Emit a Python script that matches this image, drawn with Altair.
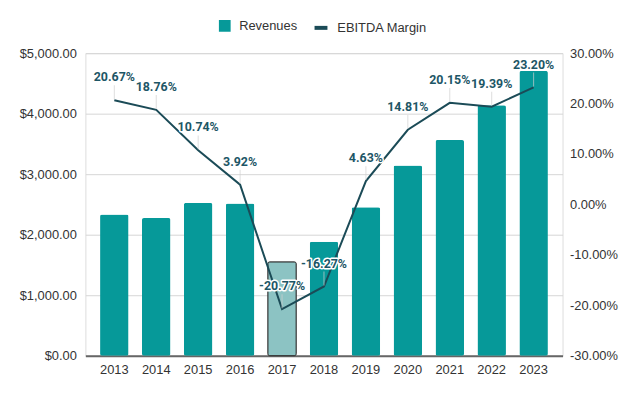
import altair as alt
import pandas as pd

years = ["2013", "2014", "2015", "2016", "2017", "2018", "2019", "2020", "2021", "2022", "2023"]
revenues = [2335, 2275, 2525, 2515, 1552, 1885, 2455, 3145, 3565, 4138, 4706]
margins = [20.67, 18.76, 10.74, 3.92, -20.77, -16.27, 4.63, 14.81, 20.15, 19.39, 23.20]
highlight_year = "2017"
rev_ticks = [0, 1000, 2000, 3000, 4000, 5000]
margin_ticks = [-30, -20, -10, 0, 10, 20, 30]

TEAL = "#069999"
DARK = "#1b4b57"
LABEL = "#1d5666"
LIGHT = "#8cc3c3"
AXIS_FONT = "Liberation Sans"
LABEL_FONT = "Roboto"

df = pd.DataFrame({"Year": years, "Revenue": revenues, "Margin": margins})
df["Label"] = [f"{m:.2f}%" for m in margins]

bar_legend = alt.Legend(
    title=None, orient="none", legendX=134, legendY=-34, symbolType="square",
    labelFont=AXIS_FONT, labelFontSize=13, labelColor="#333",
    symbolSize=140, labelOffset=8, symbolStrokeWidth=0,
)
line_legend = alt.Legend(
    title=None, orient="none", legendX=229, legendY=-34, symbolType="stroke",
    labelFont=AXIS_FONT, labelFontSize=13, labelColor="#333",
    symbolSize=169, symbolStrokeWidth=4, labelOffset=8,
)

x = alt.X("Year:N", scale=alt.Scale(paddingInner=0.32, paddingOuter=0.35),
          axis=alt.Axis(title=None, labelAngle=0, ticks=False, domain=True, domainColor="#666",
                        domainWidth=2, labelFont=AXIS_FONT, labelFontSize=13,
                        labelColor="#333", labelPadding=8))

base = alt.Chart(df)

bars = base.transform_calculate(Series="'Revenues'").mark_bar(cornerRadius=2, strokeWidth=1).encode(
    x=x,
    y=alt.Y("Revenue:Q", scale=alt.Scale(domain=[0, 5000]),
            axis=alt.Axis(values=rev_ticks, format="$,.2f", title=None, ticks=False,
                          domain=False, gridColor="#d6d6d6", labelFont=AXIS_FONT,
                          labelFontSize=13, labelColor="#333", labelPadding=9)),
    color=alt.condition(alt.datum.Year == highlight_year, alt.value(LIGHT),
                        alt.Color("Series:N", scale=alt.Scale(domain=["Revenues"], range=[TEAL]),
                                  legend=bar_legend)),
    stroke=alt.condition(alt.datum.Year == highlight_year, alt.value("#333"), alt.value("transparent")),
)

margin_axis = alt.Axis(orient="right", values=margin_ticks, title=None, ticks=False,
                       domain=False, grid=False,
                       labelExpr="replace(format(datum.value, '.2f'), '\u2212', '-') + '%'",
                       labelFont=AXIS_FONT, labelFontSize=13, labelColor="#333",
                       labelPadding=7)
ym = alt.Y("Margin:Q", scale=alt.Scale(domain=[-30, 30]), axis=margin_axis)

line = base.transform_calculate(Series2="'EBITDA Margin'").mark_line(strokeWidth=2).encode(
    x=x, y=ym,
    stroke=alt.Stroke("Series2:N", scale=alt.Scale(domain=["EBITDA Margin"], range=[DARK]),
                      legend=line_legend))

leaders = base.mark_tick(orient="vertical", size=14, thickness=1, yOffset=-8, color="#d0d0d0").encode(
    x=x, y=ym)

halo = base.mark_text(font=LABEL_FONT, fontSize=12.5, fontWeight="bold", dy=-23,
                      stroke="white", strokeWidth=3, strokeJoin="round", fill="white").encode(
    x=x, y=ym, text="Label:N")
labels = base.mark_text(font=LABEL_FONT, fontSize=12.5, fontWeight="bold", dy=-23,
                        color=LABEL).encode(x=x, y=ym, text="Label:N")

margin_layer = alt.layer(line, leaders, halo, labels)

chart = alt.layer(bars, margin_layer).resolve_scale(y="independent").properties(
    width=481, height=305,
    autosize=alt.AutoSizeParams(type="none"),
    padding={"left": 78, "top": 44, "right": 70, "bottom": 31},
).configure_view(stroke="transparent").configure_axisY(domain=False, ticks=False).configure(background="white")

chart.save("out.html", embed_options={"renderer": "svg", "actions": False})
